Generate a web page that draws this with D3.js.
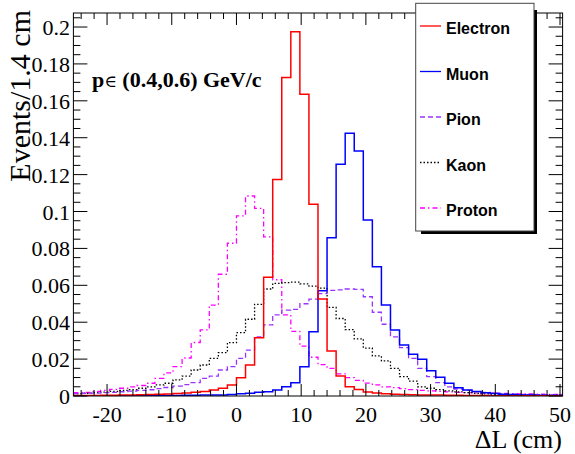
<!DOCTYPE html>
<html>
<head>
<meta charset="utf-8">
<script src="https://cdn.jsdelivr.net/npm/d3@7"></script>
<style>
  body { margin: 0; background: #fff; }
  svg { display: block; }
</style>
</head>
<body>
<div id="chart"></div>
<script>
// histogram binning: 54 bins of 1.4 cm starting at -25.2
var binStart = -25.2;
var binWidth = 1.4;

var electron = [0.0003,0.0003,0.0003,0.0004,0.0004,0.0005,0.0006,0.0007,0.0008,0.0009,
	0.0011,0.0013,0.0016,0.0020,0.0025,0.0033,0.0042,0.0060,0.0099,0.0168,
	0.0316,0.0643,0.1174,0.1727,0.1975,0.1635,0.1040,0.0526,0.0244,0.0108,
	0.0050,0.0035,0.0022,0.0016,0.0012,0.0010,0.0008,0.0007,0.0006,0.0005,
	0.0005,0.0004,0.0004,0.0003,0.0003,0.0003,0.0002,0.0002,0.0002,0.0002,
	0.0001,0.0001,0.0001,0.0001];
var muon = [0.0001,0.0001,0.0001,0.0001,0.0001,0.0002,0.0002,0.0002,0.0002,0.0003,
	0.0003,0.0003,0.0004,0.0004,0.0005,0.0005,0.0005,0.0008,0.0012,0.0015,
	0.0020,0.0023,0.0033,0.0050,0.0072,0.0159,0.0348,0.0571,0.0858,0.1256,
	0.1424,0.1328,0.0954,0.0700,0.0493,0.0358,0.0276,0.0226,0.0199,0.0137,
	0.0101,0.0069,0.0045,0.0033,0.0024,0.0018,0.0014,0.0010,0.0008,0.0006,
	0.0005,0.0004,0.0003,0.0003];
var pion = [0.0013,0.0014,0.0016,0.0018,0.0020,0.0023,0.0026,0.0030,0.0034,0.0040,
	0.0046,0.0054,0.0062,0.0072,0.0096,0.0108,0.0141,0.0159,0.0204,0.0249,
	0.0321,0.0385,0.0440,0.0466,0.0470,0.0500,0.0525,0.0555,0.0572,0.0575,
	0.0580,0.0578,0.0538,0.0454,0.0389,0.0321,0.0262,0.0204,0.0150,0.0105,
	0.0072,0.0050,0.0038,0.0030,0.0024,0.0019,0.0015,0.0012,0.0010,0.0009,
	0.0008,0.0007,0.0006,0.0006];
var kaon = [0.0013,0.0015,0.0018,0.0021,0.0025,0.0030,0.0035,0.0042,0.0050,0.0060,
	0.0069,0.0087,0.0108,0.0141,0.0168,0.0204,0.0235,0.0289,0.0343,0.0416,
	0.0497,0.0580,0.0611,0.0615,0.0617,0.0608,0.0596,0.0585,0.0480,0.0420,
	0.0360,0.0310,0.0260,0.0217,0.0190,0.0150,0.0105,0.0081,0.0050,0.0042,
	0.0035,0.0028,0.0022,0.0018,0.0015,0.0012,0.0010,0.0008,0.0007,0.0006,
	0.0005,0.0005,0.0004,0.0004];
var proton = [0.0018,0.0020,0.0025,0.0030,0.0036,0.0042,0.0049,0.0057,0.0069,0.0096,
	0.0125,0.0159,0.0206,0.0290,0.0358,0.0493,0.0660,0.0828,0.0976,0.1084,
	0.1017,0.0863,0.0630,0.0440,0.0350,0.0270,0.0210,0.0170,0.0150,0.0120,
	0.0100,0.0085,0.0070,0.0060,0.0050,0.0045,0.0040,0.0035,0.0030,0.0028,
	0.0025,0.0022,0.0020,0.0018,0.0017,0.0016,0.0015,0.0014,0.0013,0.0012,
	0.0011,0.0010,0.0009,0.0008];

var seriesNames = ["Electron", "Muon", "Pion", "Kaon", "Proton"];
var seriesValues = [electron, muon, pion, kaon, proton];
var seriesColors = ["#ff0000", "#0000ff", "#9933ff", "#000000", "#ff00ff"];
var seriesDash = [null, null, "5,3", "1.5,2", "5,3,1.5,3"];

var xTicks = [-20, -10, 0, 10, 20, 30, 40, 50];
var yTicks = [0, 0.02, 0.04, 0.06, 0.08, 0.1, 0.12, 0.14, 0.16, 0.18, 0.2];

var W = 575, H = 454;
var frameL = 73.4, frameR = 562.6, frameT = 13, frameB = 396;

var x = d3.scaleLinear().domain([binStart, binStart + binWidth * 54]).range([frameL, frameR]);
var y = d3.scaleLinear().domain([0, 0.2076]).range([frameB, frameT]);

var svg = d3.select("#chart").append("svg")
	.attr("width", W).attr("height", H);

svg.append("defs").append("clipPath").attr("id", "frame")
	.append("rect").attr("x", frameL).attr("y", frameT - 1)
	.attr("width", frameR - frameL).attr("height", frameB - frameT + 1);

// histograms
var line = d3.line()
	.x(function(d) { return x(d[0]); })
	.y(function(d) { return y(d[1]); })
	.curve(d3.curveStepAfter);

var drawOrder = [4, 3, 2, 1, 0];
drawOrder.forEach(function(s) {
	var vals = seriesValues[s];
	var pts = vals.map(function(v, i) { return [binStart + i * binWidth, v]; });
	pts.push([binStart + vals.length * binWidth, vals[vals.length - 1]]);
	svg.append("path")
		.attr("clip-path", "url(#frame)")
		.attr("d", line(pts))
		.attr("fill", "none")
		.attr("stroke", seriesColors[s])
		.attr("stroke-width", s < 2 ? 1.5 : 1.3)
		.attr("stroke-dasharray", seriesDash[s]);
});

// frame
svg.append("rect")
	.attr("x", frameL).attr("y", frameT)
	.attr("width", frameR - frameL).attr("height", frameB - frameT)
	.attr("fill", "none").attr("stroke", "#000").attr("stroke-width", 1);

// ticks (ROOT style, inside the frame on all four sides)
var g = svg.append("g").attr("stroke", "#000").attr("stroke-width", 1);
d3.range(-24, 51, 2).forEach(function(v) {
	var major = v % 10 === 0;
	var len = major ? 12 : 6;
	g.append("line").attr("x1", x(v)).attr("x2", x(v)).attr("y1", frameB).attr("y2", frameB - len);
	g.append("line").attr("x1", x(v)).attr("x2", x(v)).attr("y1", frameT).attr("y2", frameT + len);
});
d3.range(0, 0.2076, 0.005).forEach(function(v, i) {
	var major = i % 4 === 0;
	var len = major ? 14 : 7;
	g.append("line").attr("x1", frameL).attr("x2", frameL + len).attr("y1", y(v)).attr("y2", y(v));
	g.append("line").attr("x1", frameR).attr("x2", frameR - len).attr("y1", y(v)).attr("y2", y(v));
});

var serif = "'Liberation Serif', 'Times New Roman', serif";

svg.selectAll(".xlab").data(xTicks).enter().append("text")
	.attr("x", function(d) { return x(d); })
	.attr("y", 422)
	.attr("text-anchor", "middle")
	.style("font", "22px " + serif)
	.text(function(d) { return d; });

svg.selectAll(".ylab").data(yTicks).enter().append("text")
	.attr("x", 70)
	.attr("y", function(d) { return y(d) + 8; })
	.attr("text-anchor", "end")
	.style("font", "22px " + serif)
	.text(function(d) { return d === 0 ? "0" : String(+d.toFixed(2)); });

// axis titles
svg.append("text")
	.attr("x", 562).attr("y", 448)
	.attr("text-anchor", "end")
	.style("font", "26px " + serif)
	.text("\u0394L (cm)");

svg.append("text")
	.attr("transform", "translate(30,10) rotate(-90)")
	.attr("text-anchor", "end")
	.style("font", "30px " + serif)
	.text("Events/1.4 cm");

var ptext = svg.append("text")
	.attr("x", 92).attr("y", 87)
	.style("font", "bold 22px " + serif);
ptext.append("tspan").text("p");
ptext.append("tspan").style("font", "17px 'DejaVu Serif', serif").text("\u2208");
ptext.append("tspan").text(" (0.4,0.6) GeV/c");

// legend
var lg = svg.append("g");
lg.append("rect").attr("x", 421).attr("y", 10).attr("width", 116).attr("height", 224).attr("fill", "#000");
lg.append("rect").attr("x", 415.7).attr("y", 3.3).attr("width", 118.3).attr("height", 227.7)
	.attr("fill", "#fff").attr("stroke", "#444").attr("stroke-width", 1);

seriesNames.forEach(function(name, i) {
	var ty = 34 + i * 45.5;
	lg.append("line")
		.attr("x1", 420).attr("x2", 441).attr("y1", ty - 8).attr("y2", ty - 8)
		.attr("stroke", seriesColors[i]).attr("stroke-width", 1.3)
		.attr("stroke-dasharray", seriesDash[i]);
	lg.append("text")
		.attr("x", 446).attr("y", ty)
		.style("font", "bold 16px 'Liberation Sans', Arial, sans-serif")
		.text(name);
});
</script>
</body>
</html>
